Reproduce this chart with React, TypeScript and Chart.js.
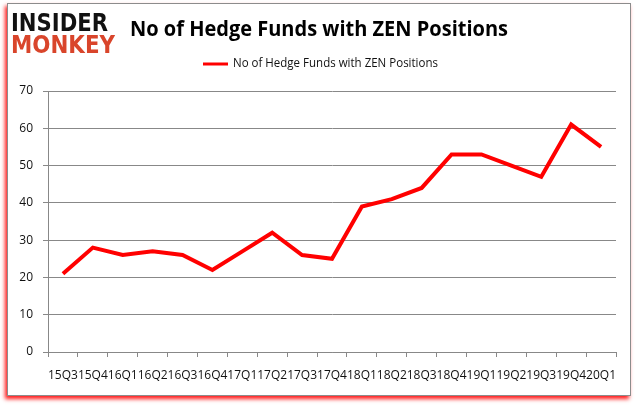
import React, { useEffect, useRef } from "react";
import { Chart, registerables } from "chart.js";

Chart.register(...registerables);

const categories = ["15Q3", "15Q4", "16Q1", "16Q2", "16Q3", "16Q4", "17Q1", "17Q2", "17Q3", "17Q4", "18Q1", "18Q2", "18Q3", "18Q4", "19Q1", "19Q2", "19Q3", "19Q4", "20Q1"];
const hedgeFunds = [21, 28, 26, 27, 26, 22, 27, 32, 26, 25, 39, 41, 44, 53, 53, 50, 47, 61, 55];
const seriesName = "No of Hedge Funds with ZEN Positions";
const titleText = "No of Hedge Funds with ZEN Positions";
const logoTop = "INSIDER";
const logoBottom = "MONKEY";

const W = 637;
const H = 408;

function fitText(ctx: CanvasRenderingContext2D, text: string, x: number, y: number, width: number) {
  const w = ctx.measureText(text).width;
  ctx.save();
  ctx.translate(x, y);
  ctx.scale(width / w, 1);
  ctx.fillText(text, 0, 0);
  ctx.restore();
}

const decorPlugin = {
  id: "decor",
  beforeDraw(chart: any) {
    const ctx = chart.ctx as CanvasRenderingContext2D;
    ctx.save();
    ctx.fillStyle = "#ffffff";
    ctx.fillRect(0, 0, W, H);
    // frame with red shadow
    ctx.shadowColor = "rgba(255,0,0,0.9)";
    ctx.shadowBlur = 4;
    ctx.shadowOffsetX = -2;
    ctx.shadowOffsetY = 3;
    ctx.fillStyle = "#ffffff";
    ctx.fillRect(7, 3, 624, 393);
    ctx.shadowColor = "transparent";
    ctx.strokeStyle = "#8c8c8c";
    ctx.lineWidth = 1;
    ctx.strokeRect(7.5, 3.5, 623, 392);
    // logo
    ctx.textBaseline = "alphabetic";
    ctx.fillStyle = "#111111";
    ctx.font = "bold 24px 'DejaVu Sans'";
    fitText(ctx, logoTop, 11, 31, 97);
    ctx.fillStyle = "#d9452b";
    fitText(ctx, logoBottom, 11, 53, 104);
    // title
    ctx.fillStyle = "#000000";
    ctx.font = "bold 22px 'Open Sans'";
    fitText(ctx, titleText, 130, 36, 378);
    // legend
    ctx.strokeStyle = "#ff0000";
    ctx.lineWidth = 3;
    ctx.beginPath();
    ctx.moveTo(203, 64);
    ctx.lineTo(228, 64);
    ctx.stroke();
    ctx.fillStyle = "#111111";
    ctx.font = "12px 'Open Sans'";
    ctx.textBaseline = "middle";
    fitText(ctx, seriesName, 233, 64, 205);
    ctx.restore();
  },
};

export default function App() {
  const ref = useRef<HTMLCanvasElement>(null);
  useEffect(() => {
    document.body.style.margin = "0";
    const chart = new Chart(ref.current!, {
      type: "line",
      data: {
        labels: categories,
        datasets: [
          {
            label: seriesName,
            data: hedgeFunds,
            borderColor: "#ff0000",
            backgroundColor: "#ff0000",
            borderWidth: 4,
            pointRadius: 0,
            tension: 0,
            borderJoinStyle: "miter",
          },
        ],
      },
      options: {
        animation: false,
        responsive: false,
        maintainAspectRatio: false,
        devicePixelRatio: 1,
        layout: { padding: { top: 91, left: 0, right: 21, bottom: 0 } },
        plugins: {
          legend: { display: false },
          title: { display: false },
          tooltip: { enabled: false },
        },
        scales: {
          x: {
            offset: true,
            afterFit: (s: any) => { s.height = 56; },
            grid: { offset: true, drawOnChartArea: false, drawTicks: true, tickLength: 5, color: "#888888" },
            border: { display: true, color: "#888888" },
            ticks: {
              autoSkip: false,
              maxRotation: 0,
              minRotation: 0,
              padding: 11,
              color: "#111111",
              font: { family: "'Open Sans'", size: 12 },
            },
          },
          y: {
            min: 0,
            max: 70,
            afterFit: (s: any) => { s.width = 48; },
            grid: { color: "#888888", tickLength: 5, drawTicks: true },
            border: { display: true, color: "#888888" },
            ticks: {
              stepSize: 10,
              padding: 10,
              color: "#111111",
              font: { family: "'Open Sans'", size: 12 },
            },
          },
        },
      },
      plugins: [decorPlugin],
    });
    return () => chart.destroy();
  }, []);
  return (
    <div style={{ position: "absolute", left: 0, top: 0, width: W, height: H }}>
      <canvas ref={ref} width={W} height={H} style={{ width: W, height: H, display: "block" }} />
    </div>
  );
}
